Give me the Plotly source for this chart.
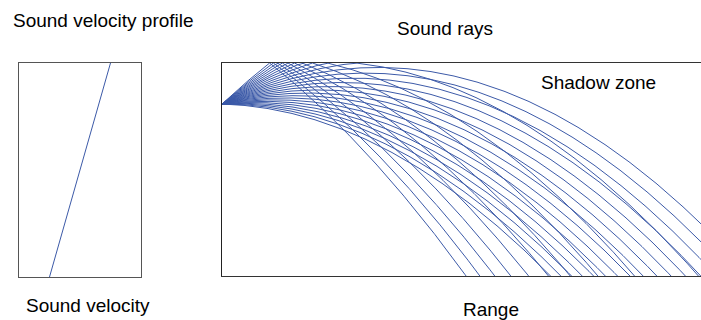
import numpy as np
import plotly.graph_objects as go

# ---- data ----
# Sound velocity profile (velocity vs depth)
profile_depth = [0, 214]          # depth units (surface -> bottom)
profile_velocity = [1530, 1470]   # m/s

# Sound rays: source and launch angles (degrees above horizontal)
source_depth = 41
ray_curvature = 0.0015            # downward bending of rays
bottom_depth = 213
max_range = 479
launch_angles_deg = [-1.75, 0.05, 1.85, 3.6, 5.4, 7.2, 9.0, 10.8, 12.6, 14.4,
                     16.2, 17.95, 19.75, 21.5, 23.3, 25.1, 26.9, 28.7, 30.5,
                     32.3, 34.0, 35.8, 37.6, 39.4, 41.2, 43.0]

titles = {
    "profile": "Sound velocity profile",
    "rays": "Sound rays",
    "shadow": "Shadow zone",
    "xprofile": "Sound velocity",
    "xrays": "Range",
}

RAY_COLOR = "#3c5aa8"
W, H = 701, 320


def trace_ray(angle_deg):
    s = np.tan(np.radians(angle_deg))
    k = ray_curvature
    xs, ds = [], []
    x = 0.0
    reflected = False
    xr, a = 0.0, 0.0
    while x <= max_range + 5:
        if not reflected:
            d = source_depth - s * x + k * x * x
            if d < 0:
                disc = s * s - 4 * k * source_depth
                xr = (s - np.sqrt(disc)) / (2 * k)
                a = s - 2 * k * xr
                xs.append(xr)
                ds.append(0.0)
                reflected = True
                continue
        else:
            u = x - xr
            d = a * u + k * u * u
        xs.append(x)
        ds.append(d)
        if d > bottom_depth + 3:
            break
        x += 1.0
    return xs, ds


fig = go.Figure()

fig.add_trace(go.Scatter(
    x=profile_velocity, y=profile_depth, mode="lines",
    line=dict(color=RAY_COLOR, width=1), xaxis="x", yaxis="y",
    showlegend=False, hoverinfo="skip"))

for ang in launch_angles_deg:
    rx, rd = trace_ray(ang)
    fig.add_trace(go.Scatter(
        x=rx, y=rd, mode="lines",
        line=dict(color=RAY_COLOR, width=1), xaxis="x2", yaxis="y2",
        showlegend=False, hoverinfo="skip"))

ax_common = dict(showticklabels=False, showgrid=False, zeroline=False,
                 ticks="", fixedrange=True)

fig.update_layout(
    width=W, height=H,
    margin=dict(l=0, r=0, t=0, b=0),
    paper_bgcolor="white", plot_bgcolor="white",
    font=dict(family="Liberation Sans, Arial, sans-serif", size=19, color="black"),
    xaxis=dict(domain=[19 / W, 141 / W], range=[1440, 1560],
               showline=True, mirror=True, linecolor="#555555", linewidth=1, **ax_common),
    yaxis=dict(domain=[(H - 277) / H, (H - 63) / H], range=[214, 0],
               showline=True, mirror=True, linecolor="#555555", linewidth=1, **ax_common),
    xaxis2=dict(domain=[222 / W, 1.0], range=[0, max_range], anchor="y2",
                showline=True, mirror=True, linecolor="#333333", linewidth=1, **ax_common),
    yaxis2=dict(domain=[(H - 276) / H, (H - 63) / H], range=[bottom_depth, 0], anchor="x2",
                showline=True, mirror=False, linecolor="#222222", linewidth=1, **ax_common),
    annotations=[
        dict(text=titles["profile"], x=103.5 / W, y=1 - 20 / H, xref="paper", yref="paper",
             xanchor="center", yanchor="middle", showarrow=False),
        dict(text=titles["rays"], x=444.6 / W, y=1 - 28.8 / H, xref="paper", yref="paper",
             xanchor="center", yanchor="middle", showarrow=False),
        dict(text=titles["shadow"], x=598.7 / W, y=1 - 82 / H, xref="paper", yref="paper",
             xanchor="center", yanchor="middle", showarrow=False),
        dict(text=titles["xprofile"], x=87.5 / W, y=1 - 305.8 / H, xref="paper", yref="paper",
             xanchor="center", yanchor="middle", showarrow=False),
        dict(text=titles["xrays"], x=490.8 / W, y=1 - 309.7 / H, xref="paper", yref="paper",
             xanchor="center", yanchor="middle", showarrow=False),
    ],
)

fig.write_html("out.html")
